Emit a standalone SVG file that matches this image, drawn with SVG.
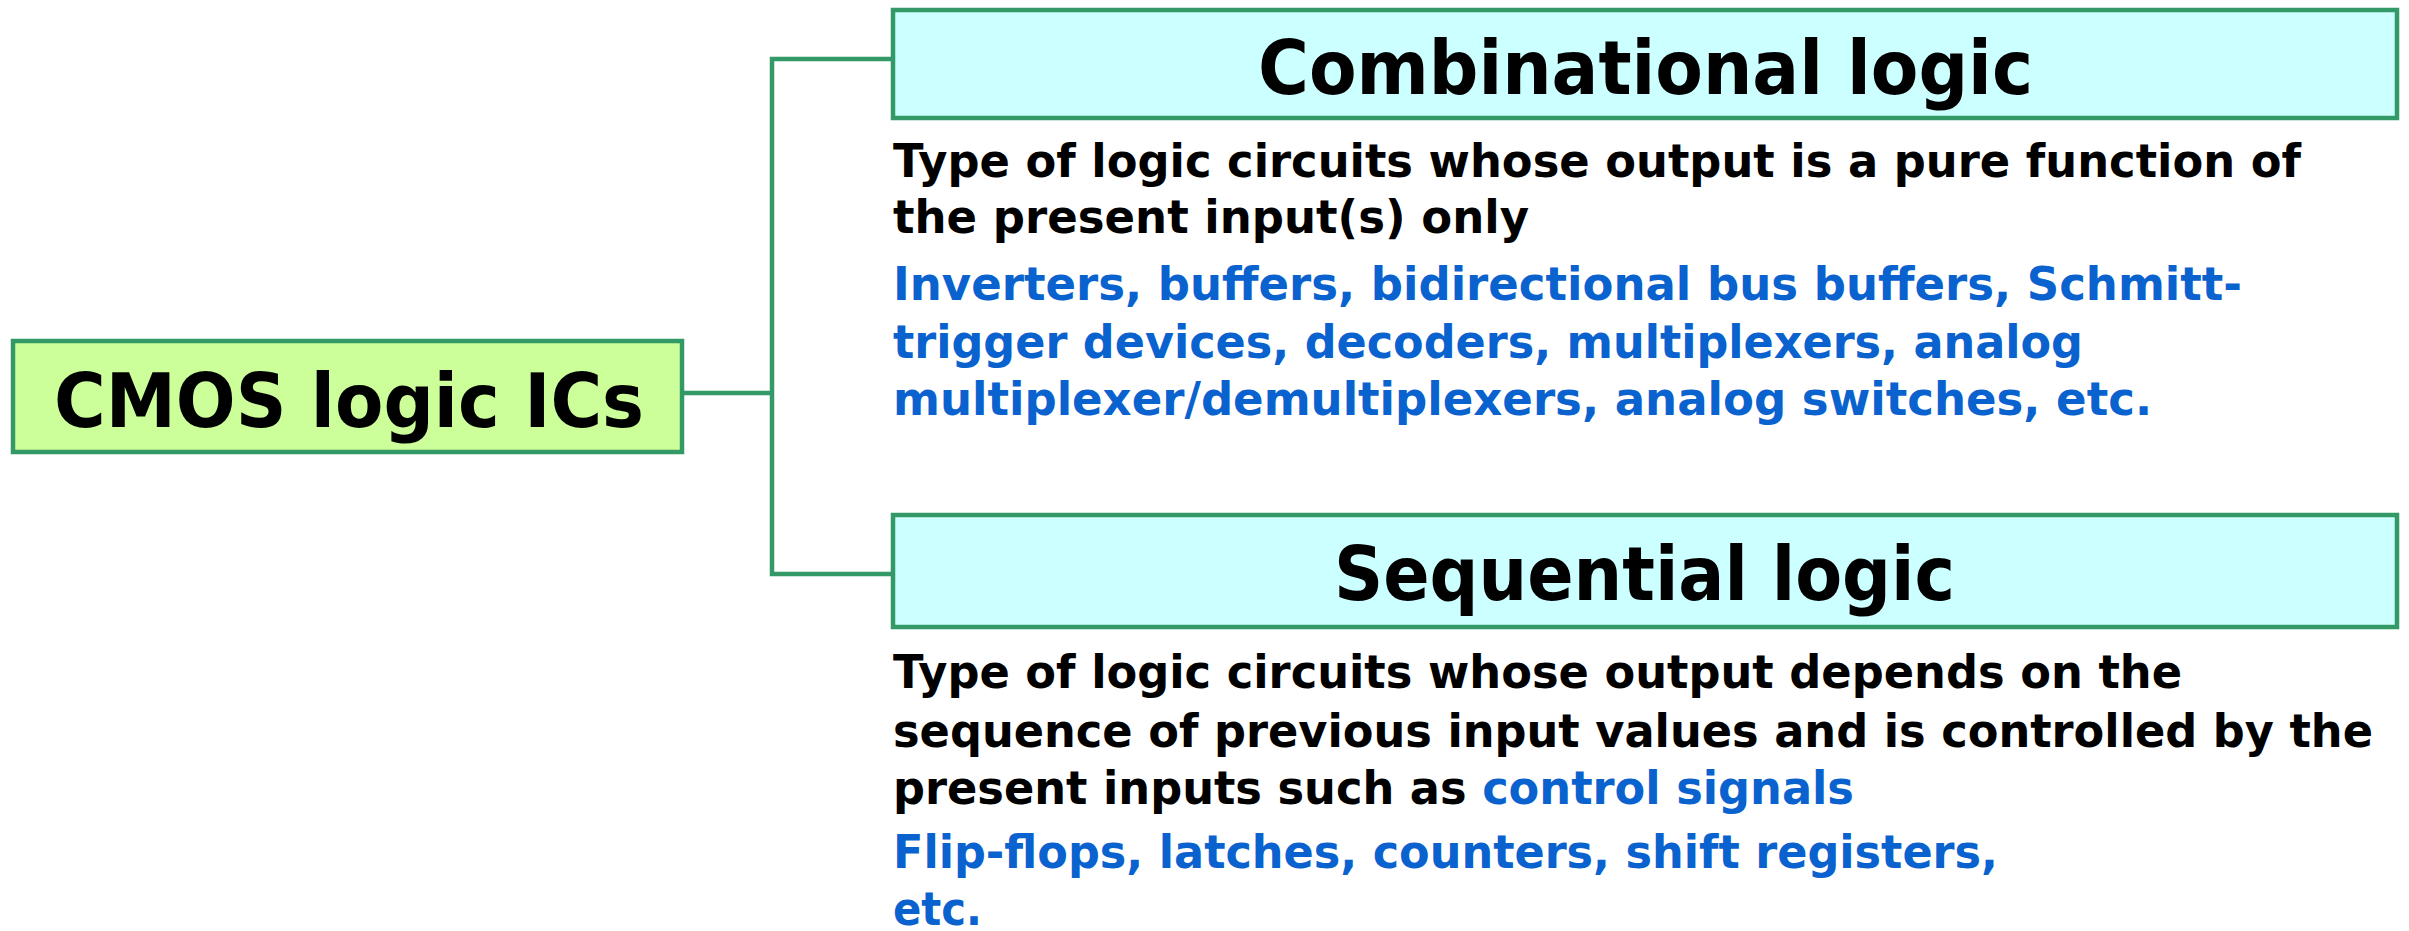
<svg xmlns="http://www.w3.org/2000/svg" width="2409" height="931" viewBox="0 0 2409 931">
<style>
.box{stroke:#339966;stroke-width:4.5}
.root{fill:#CCFF99}
.cat{fill:#CCFFFF}
.conn{stroke:#339966;stroke-width:4.5;fill:none}
text{font-family:"DejaVu Sans","Liberation Sans",sans-serif;font-weight:bold}
.title{font-size:74px;fill:#000}
.body{font-size:46px;fill:#000}
.blue{fill:#0A62CF}
</style>
<rect width="2409" height="931" fill="#fff"/>
<g id="connectors">
<polyline class="conn" points="682,393 772,393"/>
<polyline class="conn" points="893,59 772,59 772,574 893,574"/>
</g>
<g id="cmos">
<rect class="box root" x="13" y="341" width="669" height="111"/>
<text class="title" x="54" y="427" textLength="590" lengthAdjust="spacingAndGlyphs">CMOS logic ICs</text>
</g>
<g id="combinational">
<rect class="box cat" x="893" y="10" width="1504" height="108"/>
<text class="title" x="1258" y="94" textLength="775" lengthAdjust="spacingAndGlyphs">Combinational logic</text>
</g>
<g id="combinational-desc">
<text class="body" x="893" y="177" textLength="1408" lengthAdjust="spacingAndGlyphs">Type of logic circuits whose output is a pure function of</text>
<text class="body" x="893" y="233" textLength="636" lengthAdjust="spacingAndGlyphs">the present input(s) only</text>
<text class="body blue" x="893" y="300" textLength="1349" lengthAdjust="spacingAndGlyphs">Inverters, buffers, bidirectional bus buffers, Schmitt-</text>
<text class="body blue" x="893" y="358" textLength="1190" lengthAdjust="spacingAndGlyphs">trigger devices, decoders, multiplexers, analog</text>
<text class="body blue" x="893" y="415" textLength="1259" lengthAdjust="spacingAndGlyphs">multiplexer/demultiplexers, analog switches, etc.</text>
</g>
<g id="sequential">
<rect class="box cat" x="893" y="515" width="1504" height="112"/>
<text class="title" x="1334" y="600" textLength="621" lengthAdjust="spacingAndGlyphs">Sequential logic</text>
</g>
<g id="sequential-desc">
<text class="body" x="893" y="688" textLength="1289" lengthAdjust="spacingAndGlyphs">Type of logic circuits whose output depends on the</text>
<text class="body" x="893" y="747" textLength="1480" lengthAdjust="spacingAndGlyphs">sequence of previous input values and is controlled by the</text>
<text class="body" x="893" y="804" textLength="961" lengthAdjust="spacingAndGlyphs">present inputs such as <tspan class="blue">control signals</tspan></text>
<text class="body blue" x="893" y="868" textLength="1105" lengthAdjust="spacingAndGlyphs">Flip-flops, latches, counters, shift registers,</text>
<text class="body blue" x="893" y="925" textLength="89" lengthAdjust="spacingAndGlyphs">etc.</text>
</g>
</svg>
